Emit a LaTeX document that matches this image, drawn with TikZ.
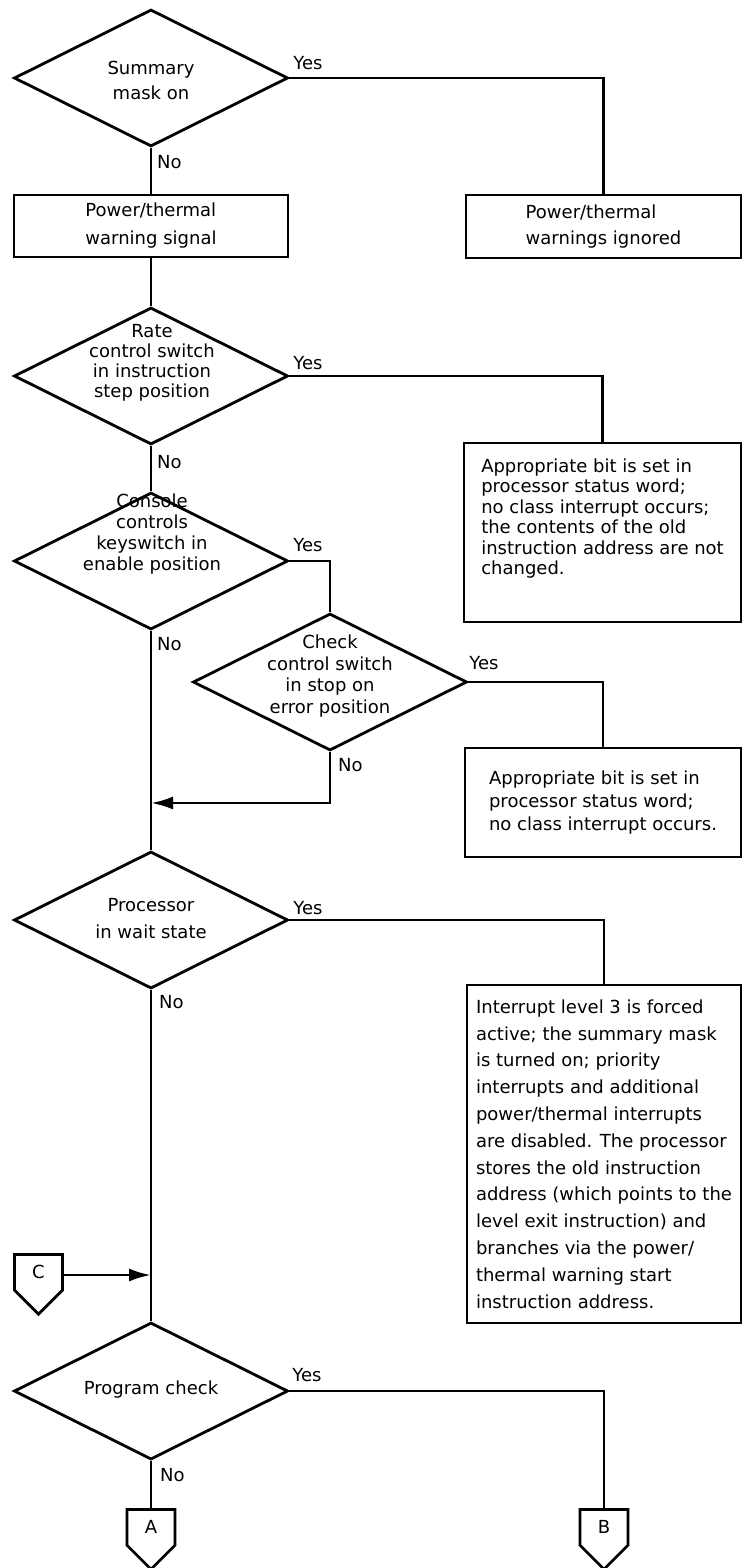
\documentclass[tikz,border=0pt]{standalone}
\usepackage{fontspec}
\setmainfont{DejaVu Sans}
\usetikzlibrary{shapes.geometric,shapes.symbols,arrows.meta}
\tikzset{
  flow/.style={line width=2.8pt},
  decision/.style={draw,flow,diamond,inner sep=0pt,minimum width=274pt,minimum height=137pt},
  stepbox/.style={draw,flow,rectangle,align=left,inner sep=3pt},
  offpage/.style={draw,flow,signal,signal to=south,signal pointer angle=90,minimum width=48pt,minimum height=42pt,inner sep=0pt},
  linesep/.style={font=\fontsize{18}{#1}\selectfont},
  merge/.style={-{Latex[length=22pt,width=13pt]}},
  every node/.style={font=\fontsize{18}{21}\selectfont}
}
\begin{document}
\begin{tikzpicture}[x=1pt,y=-1pt]
  \useasboundingbox (0,0) rectangle (746,1568);
  \node[decision] (summ) at (151,78) {};
  \node[linesep=25pt,align=center,inner sep=0pt] (summtxt) at (151,80.5) {Summary\\mask on};
  \node[decision] (rate) at (151,376) {};
  \node[linesep=20pt,align=center,inner sep=0pt] (ratetxt) at (152,363) {Rate\\control switch\\in instruction\\step position};
  \node[decision] (cons) at (151,561) {};
  \node[linesep=20.7pt,align=center,inner sep=0pt] (constxt) at (152,534) {Console\\controls\\keyswitch in\\enable position};
  \node[decision] (chk) at (330,682) {};
  \node[linesep=21.5pt,align=center,inner sep=0pt] (chktxt) at (330,676) {Check\\control switch\\in stop on\\error position};
  \node[decision] (wait) at (151,920) {};
  \node[linesep=27pt,align=center,inner sep=0pt] (waittxt) at (151,918.5) {Processor\\in wait state};
  \node[decision] (prog) at (151,1391) {};
  \node[inner sep=0pt] (progtxt) at (151,1390) {Program check};

  \node[stepbox,linesep=28pt,minimum width=274pt,minimum height=62pt] (sig) at (151,226) {Power/thermal\\warning signal};
  \node[stepbox,linesep=26pt,minimum width=275pt,minimum height=63pt] (ign) at (603.5,226.5) {Power/thermal\\warnings ignored};
  \node[stepbox,linesep=20.5pt,minimum width=277pt,minimum height=179pt,text depth=32pt] (stepbit) at (602.5,532.5) {Appropriate bit is set in\\processor status word;\\no class interrupt occurs;\\the contents of the old\\instruction address are not\\changed.};
  \node[stepbox,linesep=23.3pt,minimum width=276pt,minimum height=109pt] (stopbit) at (603,802.5) {Appropriate bit is set in\\processor status word;\\no class interrupt occurs.};
  \node[stepbox,linesep=26.8pt,minimum width=274pt,minimum height=338pt] (waitbox) at (604,1154) {Interrupt level 3 is forced\\active; the summary mask\\is turned on; priority\\interrupts and additional\\power/thermal interrupts\\are disabled. The processor\\stores the old instruction\\address (which points to the\\level exit instruction) and\\branches via the power/\\thermal warning start\\instruction address.};

  \node[offpage,anchor=north] (offc) at (38.5,1253) {C};
  \node[offpage,anchor=north] (offa) at (151,1508) {A};
  \node[offpage,anchor=north] (offb) at (604,1508) {B};
  \coordinate (join1) at (151,803);
  \coordinate (join2) at (151,1275);

  \node (yes1) at (308,63) {Yes};
  \node (yes2) at (308,363) {Yes};
  \node (yes3) at (308,545) {Yes};
  \node (yes4) at (484,663) {Yes};
  \node (yes5) at (308,908) {Yes};
  \node (yes6) at (307,1375) {Yes};
  \node[anchor=west,inner sep=0pt] (no1) at (157,162) {No};
  \node[anchor=west,inner sep=0pt] (no2) at (157,462) {No};
  \node[anchor=west,inner sep=0pt] (no3) at (157,644) {No};
  \node[anchor=west,inner sep=0pt] (no4) at (338,765) {No};
  \node[anchor=west,inner sep=0pt] (no5) at (159,1002) {No};
  \node[anchor=west,inner sep=0pt] (no6) at (160,1475) {No};

  \draw[flow] (summ.south) -- (sig.north);
  \draw[flow] (summ.east) -| (ign.north);
  \draw[flow] (sig.south) -- (rate.north);
  \draw[flow] (rate.east) -| (stepbit.north);
  \draw[flow] (rate.south) -- (cons.north);
  \draw[flow] (cons.east) -| (chk.north);
  \draw[flow] (chk.east) -| (stopbit.north);
  \draw[flow] (cons.south) -- (wait.north);
  \draw[flow,merge] (chk.south) |- (join1);
  \draw[flow] (wait.east) -| (waitbox.north);
  \draw[flow] (wait.south) -- (prog.north);
  \draw[flow,merge] (join2 -| offc.east) -- (join2);
  \draw[flow] (prog.south) -- (offa.north);
  \draw[flow] (prog.east) -| (offb.north);
\end{tikzpicture}
\end{document}
